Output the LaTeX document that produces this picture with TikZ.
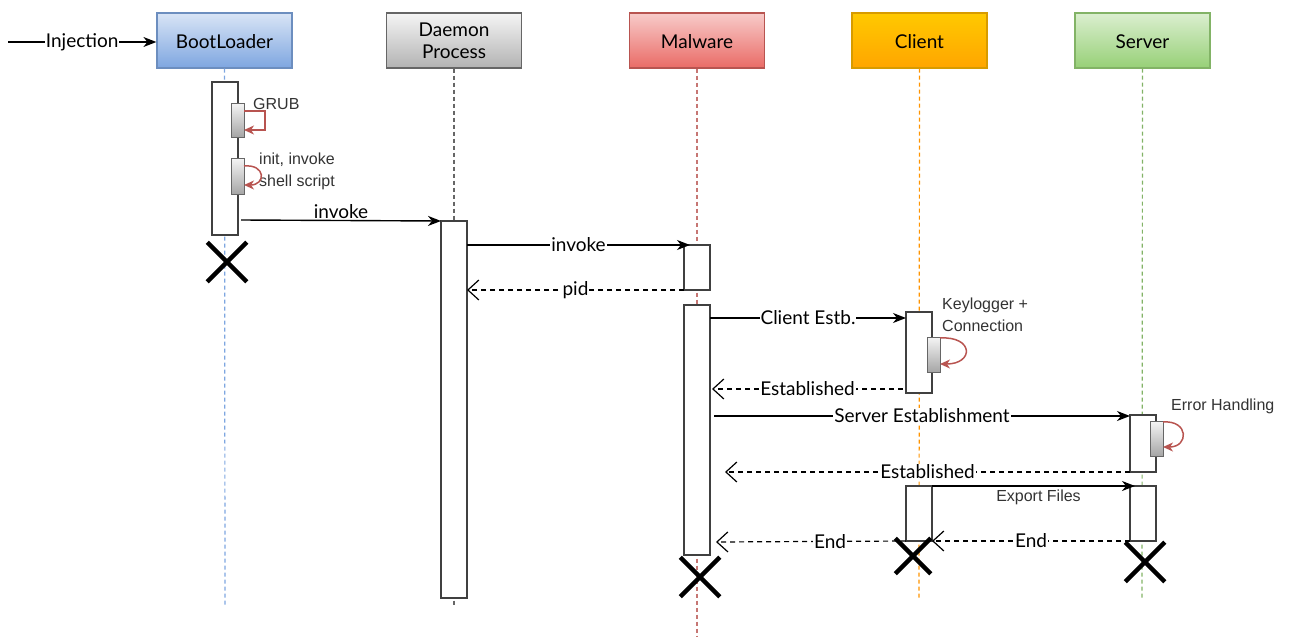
\documentclass[tikz,border=0pt]{standalone}
\usepackage{fontspec}
\setmainfont{Liberation Sans}
\newfontfamily\comic{Lato}
\usetikzlibrary{arrows.meta,calc,shapes.misc}
\definecolor{bootblue}{HTML}{7EA6E0}
\definecolor{bootline}{HTML}{6C8EBF}
\definecolor{malred}{HTML}{EA6B66}
\definecolor{malline}{HTML}{B85450}
\definecolor{cliorange}{HTML}{FFA500}
\definecolor{cliline}{HTML}{D79B00}
\definecolor{srvgreen}{HTML}{97D077}
\definecolor{srvline}{HTML}{82B366}
\tikzset{
  lbox/.style   = {draw, line width=1.2pt, minimum width=135pt, minimum height=55pt,
                   inner sep=0pt, align=center, font=\comic\fontsize{19}{22}\selectfont},
  act/.style    = {draw=black!75, line width=1.5pt, fill=white, minimum width=26pt,
                   inner sep=0pt, outer sep=0pt},
  subact/.style = {draw=black!60, line width=1pt, top color=black!4, bottom color=black!35,
                   minimum width=13pt, inner sep=0pt, outer sep=0pt},
  life/.style   = {line width=1.2pt, dash pattern=on 4pt off 3pt},
  msg/.style    = {line width=1.4pt, -{Stealth[length=13pt,width=10pt,inset=4pt]}},
  ret/.style    = {line width=1.2pt, dash pattern=on 5pt off 4pt,
                   -{Straight Barb[length=11pt,width=20pt]}},
  lbl/.style    = {fill=white, inner sep=1pt, font=\comic\fontsize{19}{22}\selectfont},
  note/.style   = {inner sep=0pt, align=left, text=black!80, font=\fontsize{16}{22}\selectfont},
  selfloop/.style = {draw=malline, line width=1.5pt, -{Stealth[length=10pt,width=9pt,inset=3pt]}},
  kill/.style   = {cross out, draw=black, line width=4.5pt, minimum size=35pt, inner sep=0pt},
}
\begin{document}
\begin{tikzpicture}[x=1pt,y=-1pt]
  \useasboundingbox (0,0) rectangle (1291,637);
  % lifeline heads
  \node[lbox, text height=17pt, draw=bootline, top color=bootblue!30, bottom color=bootblue] (boot) at (224.5,40.5) {BootLoader};
  \node[lbox, draw=black!60, top color=black!4, bottom color=black!30] (daemon) at (454,40.5) {Daemon\\Process};
  \node[lbox, text height=17pt, draw=malline, top color=malred!35, bottom color=malred] (mal) at (697,40.5) {Malware};
  \node[lbox, text height=17pt, draw=cliline, top color=cliorange!60!yellow, bottom color=cliorange] (cli) at (919.5,40.5) {Client};
  \node[lbox, text height=17pt, draw=srvline, top color=srvgreen!35, bottom color=srvgreen] (srv) at (1142.5,40.5) {Server};
  % lifeline ends
  \coordinate (bootend) at (225,607);
  \coordinate (daemonend) at (454,607);
  \coordinate (malend) at (697,637);
  \coordinate (cliend) at (919,598);
  \coordinate (srvend) at (1142,598);
  \draw[life, bootblue] (boot.south) -- (bootend);
  \draw[life, black!60] (daemon.south) -- (daemonend);
  \draw[life, malline!80] (mal.south) -- (malend);
  \draw[life, cliorange!90!red] (cli.south) -- (cliend);
  \draw[life, srvline] (srv.south) -- (srvend);
  % message rows
  \foreach \n/\y in {rinv/220, rinvb/245, rpid/290, rcli/318, rest/389, rsrv/416,
                     resb/472, rexp/486, rend/542}
    \coordinate (\n) at (0,\y);
  % activations
  \node[act, minimum height=153pt] (bootact) at (225,158.5) {};
  \node[subact, minimum height=34pt] (grub) at (237.5,120) {};
  \node[subact, minimum height=36pt] (initsh) at (237.5,176) {};
  \node[act, minimum height=377pt] (daemonact) at (454,409.5) {};
  \node[act, minimum height=45pt] (malact) at (697,267.5) {};
  \node[act, minimum height=250pt] (malmain) at (697,430) {};
  \node[act, minimum height=81pt] (cliact) at (919,352.5) {};
  \node[subact, minimum height=35pt] (keylog) at (933.5,354.5) {};
  \node[act, minimum height=57pt] (srvact) at (1143,443.5) {};
  \node[subact, minimum height=35pt] (errh) at (1156.5,438.5) {};
  \node[act, minimum height=55pt] (cliexp) at (919,513.5) {};
  \node[act, minimum height=55pt] (srvexp) at (1143,513.5) {};
  % notes
  \node[note, anchor=west] (grubtxt) at (253,104) {GRUB};
  \node[note, anchor=west] (inittxt) at (259,171) {init, invoke\\shell script};
  \node[note, anchor=west] (keytxt) at (942,315) {Keylogger +\\Connection};
  \node[note, anchor=west] (errtxt) at (1171,406) {Error Handling};
  % self calls
  \draw[selfloop] ([yshift=-8pt]grub.north east) -- ++(21,0) |- ([yshift=7pt]grub.south east);
  \draw[selfloop] ([yshift=-8pt]initsh.north east) .. controls ++(22,-2) and ++(22,0) .. ([yshift=9pt]initsh.south east);
  \draw[selfloop] ([yshift=-1pt]keylog.north east) .. controls ++(34,-2) and ++(34,0) .. ([yshift=8pt]keylog.south east);
  \draw[selfloop] ([yshift=-1pt]errh.north east) .. controls ++(26,-2) and ++(26,0) .. ([yshift=9pt]errh.south east);
  % messages
  \coordinate (inj) at (8,42);
  \draw[msg] (inj) -- node[lbl] {Injection} ([yshift=-1.5pt]boot.west);
  \draw[msg] ([xshift=3pt]bootact.east |- rinv) -- node[lbl, above, inner sep=0pt, yshift=1pt] {invoke} (daemonact.north west);
  \draw[msg] (daemonact.east |- rinvb) -- node[lbl] {invoke} ([xshift=6pt]malact.north west);
  \draw[ret] (malact.south west) -- node[lbl] {pid} (daemonact.east |- rpid);
  \draw[msg] (malmain.east |- rcli) -- node[lbl] {Client Estb.} (cliact.west |- rcli);
  \draw[ret] ([xshift=-3pt]cliact.west |- rest) -- node[lbl] {Established} ([xshift=2pt]malmain.east |- rest);
  \draw[msg] ([xshift=4pt]malmain.east |- rsrv) -- node[lbl] {Server Establishment} (srvact.west |- rsrv);
  \draw[ret] (srvact.south west) -- node[lbl] {Established} ([xshift=15pt]malmain.east |- resb);
  \draw[msg] (cliexp.north east) -- node[note, below=3pt, xshift=5pt] {Export Files} ([xshift=5pt]srvexp.north west);
  \draw[ret] (cliexp.south west) -- node[lbl, pos=0.4] {End} ([xshift=6pt]malmain.east |- rend);
  \draw[ret] (srvexp.south west) -- node[lbl] {End} (cliexp.south east);
  % destructions
  \node[kill] (bootx) at (227,262) {};
  \node[kill] (malx) at (700,577) {};
  \node[kill, minimum size=31pt] (clix) at (913,556) {};
  \node[kill] (srvx) at (1145,562) {};
\end{tikzpicture}
\end{document}
